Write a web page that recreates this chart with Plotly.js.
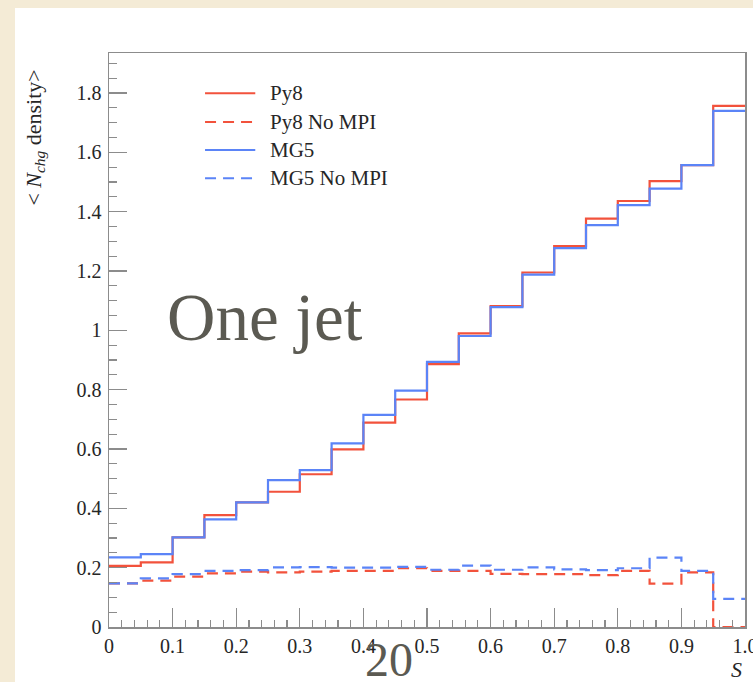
<!DOCTYPE html>
<html>
<head>
<meta charset="utf-8">
<script src="https://cdn.plot.ly/plotly-3.0.1.min.js"></script>
<style>
  html, body { margin: 0; padding: 0; background: #f4ebd6; width: 753px; height: 682px; overflow: hidden; }
  #panel { position: absolute; left: 15px; top: 8px; width: 738px; height: 674px; background: #ffffff; }
</style>
</head>
<body>
<div id="panel"></div>
<script>
// Bin edges of the S histogram (20 bins of width 0.05)
const binEdges = [0, 0.05, 0.1, 0.15, 0.2, 0.25, 0.3, 0.35, 0.4, 0.45, 0.5,
                  0.55, 0.6, 0.65, 0.7, 0.75, 0.8, 0.85, 0.9, 0.95, 1.0];

// Mean charged-particle density per bin
const py8 = [0.206, 0.218, 0.302, 0.377, 0.420, 0.456, 0.515, 0.599, 0.689, 0.767,
             0.886, 0.990, 1.082, 1.195, 1.284, 1.377, 1.436, 1.503, 1.557, 1.757];
const py8NoMPI = [0.147, 0.156, 0.170, 0.181, 0.187, 0.184, 0.187, 0.189, 0.189, 0.198,
                  0.189, 0.189, 0.179, 0.178, 0.178, 0.175, 0.189, 0.146, 0.184, 0.0];
const mg5 = [0.235, 0.246, 0.302, 0.363, 0.420, 0.495, 0.529, 0.619, 0.715, 0.797,
             0.894, 0.981, 1.078, 1.188, 1.277, 1.355, 1.422, 1.478, 1.557, 1.740];
const mg5NoMPI = [0.147, 0.164, 0.178, 0.189, 0.192, 0.201, 0.202, 0.200, 0.200, 0.203,
                  0.193, 0.207, 0.193, 0.201, 0.194, 0.192, 0.198, 0.234, 0.189, 0.095];

const seriesNames = ["Py8", "Py8 No MPI", "MG5", "MG5 No MPI"];

const xTickVals = [0, 0.1, 0.2, 0.3, 0.4, 0.5, 0.6, 0.7, 0.8, 0.9, 1.0];
const xTickText = ["0", "0.1", "0.2", "0.3", "0.4", "0.5", "0.6", "0.7", "0.8", "0.9", "1.0"];
const yTickVals = [0, 0.2, 0.4, 0.6, 0.8, 1.0, 1.2, 1.4, 1.6, 1.8];
const yTickText = ["0", "0.2", "0.4", "0.6", "0.8", "1", "1.2", "1.4", "1.6", "1.8"];

const RED = "#f2523c";
const BLUE = "#5b84f7";
const DASH = "11px,7px";

const seriesColors = [RED, RED, BLUE, BLUE];
const seriesDashes = ["solid", DASH, "solid", DASH];
const seriesValues = [py8, py8NoMPI, mg5, mg5NoMPI];

// Step histogram: repeat the last bin content so 'hv' closes the final bin
function stepTrace(values, name, color, dash) {
  return {
    type: "scatter",
    mode: "lines",
    name: name,
    x: binEdges,
    y: values.concat([values[values.length - 1]]),
    line: { shape: "hv", color: color, width: 2.2, dash: dash },
    hoverinfo: "skip"
  };
}

const traces = seriesValues.map((v, i) =>
  stepTrace(v, seriesNames[i], seriesColors[i], seriesDashes[i]));

const serif = "Liberation Serif, DejaVu Serif, serif";
const axisGrey = "#8c8c8c";
const textDark = "#262626";

// Key in the upper-left corner: long line samples with labels to their right
const keyRows = [0.930, 0.880, 0.831, 0.782];
const keyShapes = keyRows.map((yy, i) => ({
  type: "line", xref: "paper", yref: "paper",
  x0: 0.151, x1: 0.230, y0: yy, y1: yy,
  line: { color: seriesColors[i], width: 2, dash: seriesDashes[i] }
}));
const keyLabels = keyRows.map((yy, i) => ({
  xref: "paper", yref: "paper", x: 0.250, y: yy,
  xanchor: "left", yanchor: "middle",
  text: seriesNames[i], showarrow: false,
  font: { family: serif, size: 21, color: textDark }
}));

const layout = {
  width: 738,
  height: 674,
  paper_bgcolor: "#ffffff",
  plot_bgcolor: "#ffffff",
  margin: { l: 94, r: 8, t: 45, b: 55 },
  showlegend: false,
  xaxis: {
    range: [0, 1],
    showgrid: false, zeroline: false,
    showline: true, linecolor: axisGrey, linewidth: 1.5, mirror: true,
    ticks: "inside", ticklen: 19, tickwidth: 1.3, tickcolor: axisGrey,
    tickvals: xTickVals, ticktext: xTickText,
    tickfont: { family: serif, size: 20, color: textDark },
    ticklabeloverflow: "allow",
    minor: { dtick: 0.02, tick0: 0, ticks: "inside", ticklen: 7, tickwidth: 1.2, tickcolor: axisGrey, showgrid: false }
  },
  yaxis: {
    range: [0, 1.935],
    showgrid: false, zeroline: false,
    showline: true, linecolor: axisGrey, linewidth: 1.5, mirror: true,
    ticks: "inside", ticklen: 18, tickwidth: 1.3, tickcolor: axisGrey,
    tickvals: yTickVals, ticktext: yTickText,
    tickfont: { family: serif, size: 20, color: textDark },
    ticklabelstandoff: 2,
    minor: { dtick: 0.05, tick0: 0, ticks: "inside", ticklen: 8, tickwidth: 1.2, tickcolor: axisGrey, showgrid: false }
  },
  shapes: keyShapes,
  annotations: keyLabels.concat([
    {
      // vertical axis label, placed near the top of the axis
      xref: "paper", yref: "paper", x: -0.116, y: 0.853,
      xanchor: "center", yanchor: "middle",
      text: "&lt; <i>N</i><sub><i>chg</i></sub> density&gt;",
      textangle: -90, showarrow: false,
      font: { family: serif, size: 22, color: textDark }
    },
    {
      xref: "paper", yref: "paper", x: 0.987, y: -0.074,
      xanchor: "center", yanchor: "middle",
      text: "<i>S</i>", showarrow: false,
      font: { family: serif, size: 22, color: textDark }
    },
    {
      xref: "paper", yref: "paper", x: 0.245, y: 0.54,
      xanchor: "center", yanchor: "middle",
      text: "One jet", showarrow: false,
      font: { family: serif, size: 67, color: "#5b5a52" }
    },
    {
      xref: "paper", yref: "paper", x: 0.44, y: -0.057,
      xanchor: "center", yanchor: "middle",
      text: "20", showarrow: false,
      font: { family: serif, size: 48, color: "#5b5a52" }
    }
  ])
};

Plotly.newPlot("panel", traces, layout, { displayModeBar: false, staticPlot: true });
</script>
</body>
</html>
